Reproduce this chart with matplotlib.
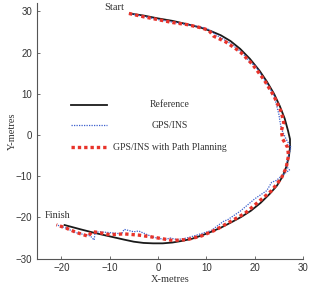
import matplotlib.pyplot as plt
from matplotlib.lines import Line2D

# reference trajectory
ref_x = [-6, -3, 0, 3, 6, 9, 11, 13, 15, 17, 19, 21, 22.5, 24, 25.2, 26.2, 26.9, 27.3, 27.3, 27.1, 26.6, 25.8,
         24.6, 23.1, 21.2, 19.2, 17.2, 15, 13, 11, 9, 7, 5, 3, 1, -1, -3, -5, -7, -10, -13, -16, -19.5]
ref_y = [29.5, 29.0, 28.3, 27.7, 26.9, 26.0, 25.2, 24.2, 22.8, 20.9, 18.5, 15.6, 13, 10, 7, 4, 1, -1, -3, -5,
         -7.5, -10, -12.3, -14.3, -16.5, -18.4, -19.9, -21.3, -22.5, -23.5, -24.4, -25.2, -25.7, -26.1, -26.3,
         -26.3, -26.2, -25.9, -25.4, -24.6, -23.8, -22.9, -21.8]

# GPS/INS
ins_x = [-6, -3, 0, 3, 6, 9, 10.5, 12, 15, 17.5, 19.3, 20, 22, 24, 25, 25.2, 25.5, 26.5, 27.5, 27, 26.5, 27.2, 26,
         24.5, 23.5, 22.5, 20, 17, 14.5, 13.5, 11, 8, 6, 4, 2.5, 1.5, -1, -4, -5, -7, -7.5, -10, -12, -13, -13.2,
         -14, -17, -19, -21]
ins_y = [29.5, 28.8, 28, 27.4, 26.8, 26.2, 25.6, 24.3, 22.2, 19.9, 17.3, 17.0, 13.4, 9.6, 5, 3.5, 1.5, -1, -3, -5,
         -7.5, -8.5, -9.5, -11, -11.5, -13.5, -15.5, -18.5, -20.5, -21, -23.2, -24.3, -25, -25.4, -25, -25.4, -24.8,
         -23.3, -23.5, -22.9, -24, -23.7, -23.5, -23.6, -25.5, -24.5, -23.7, -22.6, -21.8]

# GPS/INS with path planning
pp_x = [-6, -3, 0, 3, 6, 9, 10.5, 11.5, 14, 17, 19.5, 22, 24, 25.5, 26, 25.5, 25.8, 26.8, 27, 26.5, 25.5, 23.5, 21,
        18, 15, 12, 9, 6, 3, 1, -1, -4, -7, -10, -12.5, -13.7, -14.4, -17, -19, -21]
pp_y = [29.5, 28.7, 28, 27.3, 26.8, 26, 25.4, 24, 22.6, 20.2, 17.2, 13.3, 9.4, 5.6, 3, 1, -1, -3, -5, -8, -10.5,
        -13.5, -16, -19, -21, -23, -24.5, -25.4, -25.6, -25.2, -24.8, -24.3, -24, -24.2, -23.6, -23.5, -24.6, -23.6,
        -22.6, -21.8]

labels = ['Reference', 'GPS/INS', 'GPS/INS with Path Planning']
colors = ['#1a1a1a', '#3a5fcd', '#e8332a']

fig = plt.figure(figsize=(3.17, 2.87), dpi=100)
ax = fig.add_axes([0.117, 0.099, 0.839, 0.89])

ax.plot(ref_x, ref_y, color=colors[0], lw=1.3, solid_capstyle='butt')
ax.plot(ins_x, ins_y, color=colors[1], lw=0.9, ls=(0, (1, 1)))
ax.plot(pp_x, pp_y, color=colors[2], lw=2.4, ls=(0, (1, 0.9)))

ax.set_xlim(-25, 30)
ax.set_ylim(-30, 32)
ax.set_xticks([-20, -10, 0, 10, 20, 30])
ax.set_yticks([-30, -20, -10, 0, 10, 20, 30])

for s in ['top', 'right']:
    ax.spines[s].set_visible(False)
for s in ['left', 'bottom']:
    ax.spines[s].set_color('#555555')
    ax.spines[s].set_linewidth(0.8)
ax.tick_params(direction='in', length=2.5, width=0.6, color='#555555', labelsize=7,
               labelcolor='#333333', labelfontfamily='Liberation Sans')

serif = 'Liberation Serif'
ax.set_xlabel('X-metres', fontsize=7.5, family=serif, labelpad=1, color='#333333')
ax.set_ylabel('Y-metres', fontsize=7.5, family=serif, labelpad=-1, color='#333333')

ax.text(-9, 31.0, 'Start', fontsize=7.5, family=serif, ha='center', va='center', color='#333333')
ax.text(-20.7, -19.6, 'Finish', fontsize=7.5, family=serif, ha='center', va='center', color='#333333')

# legend, labels centred like the original
leg_rows = [0.602, 0.522, 0.436]
for lab, c, yy, st in zip(labels, colors, leg_rows,
                          [dict(lw=1.3), dict(lw=0.9, ls=(0, (1, 1))), dict(lw=2.4, ls=(0, (1, 0.9)))]):
    ax.add_line(Line2D([0.128, 0.264], [yy, yy], transform=ax.transAxes, color=c, **st))
    ax.text(0.5, yy, lab, transform=ax.transAxes, fontsize=7, family=serif,
            ha='center', va='center', color='#333333')

fig.savefig('out.png', dpi=100)
